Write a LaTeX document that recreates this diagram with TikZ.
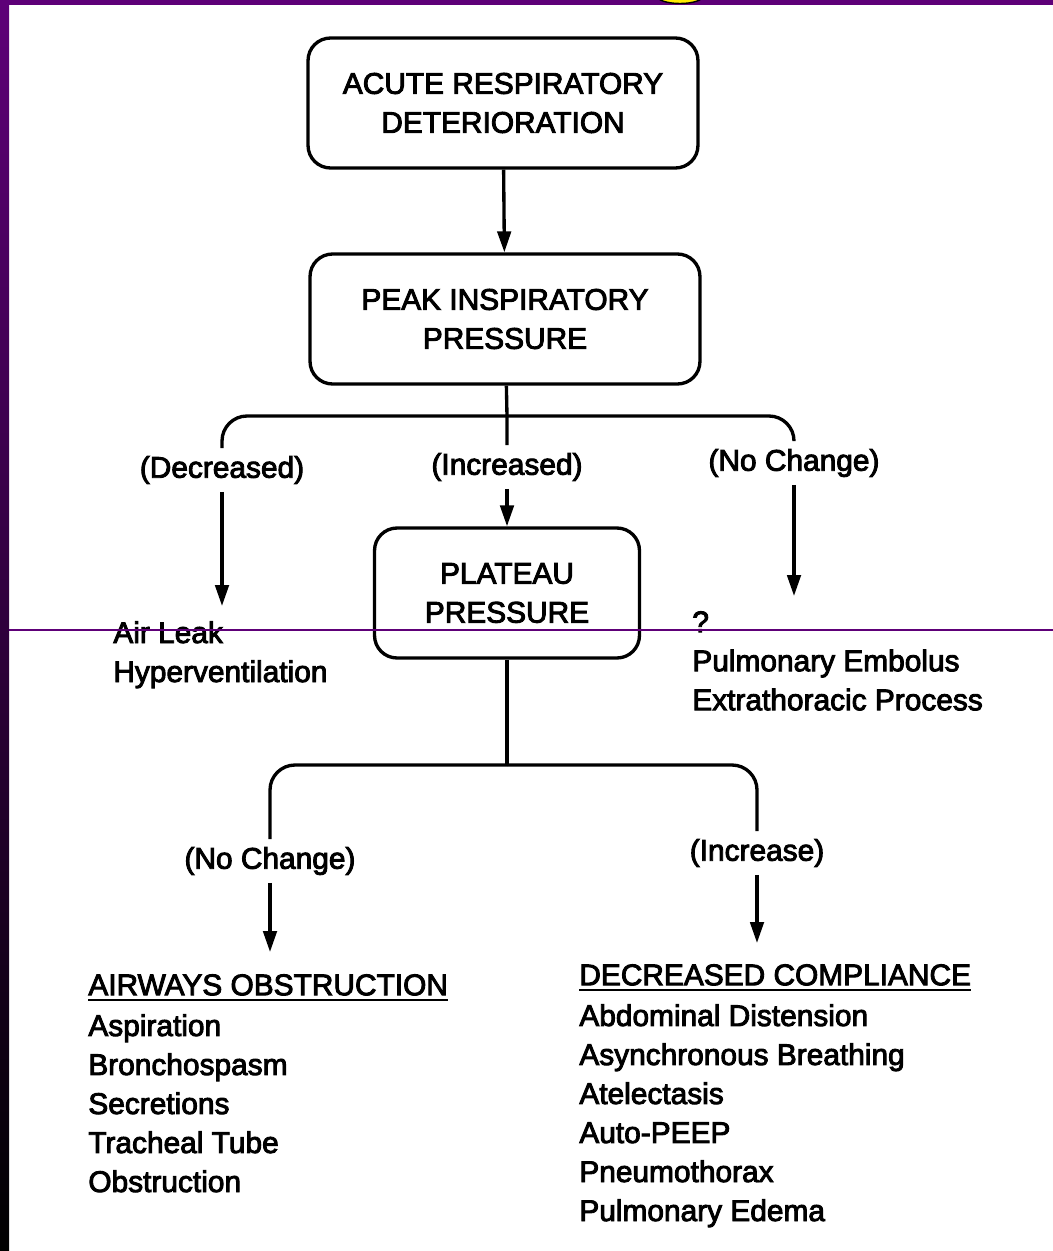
\documentclass[tikz,border=0pt]{standalone}
\usepackage{fontspec}
\setmainfont{Liberation Sans}[BoldFont=Liberation Sans, BoldFeatures={FakeBold=3}]
\usepackage{xcolor}
\usepackage{tikz}
\usetikzlibrary{positioning,arrows.meta}
\definecolor{framepurple}{RGB}{94,0,120}
\definecolor{slideyellow}{RGB}{255,236,0}
\newcommand{\ulhead}[1]{\setbox0=\hbox{#1}\rlap{\rule[-3.4pt]{\wd0}{1.3pt}}\box0}

\begin{document}
\begin{tikzpicture}[x=0.02cm, y=-0.02cm,
  font=\fontsize{17}{22.2}\selectfont\bfseries,
  flowbox/.style={draw, line width=1.9pt, rounded corners=0.45cm, minimum height=2.6cm, align=center},
  branchlabel/.style={inner sep=0.15cm},
  itemlist/.style={anchor=north west, inner sep=0pt, align=left},
  link/.style={line width=1.9pt},
  arr/.style={line width=1.9pt, -{Triangle[length=0.42cm,width=0.27cm]}}]
\useasboundingbox (0,0) rectangle (1053,1251);

% Slide frame
\fill[white] (0,0) rectangle (1053,1251);
\shade[top color=framepurple, bottom color=black] (0,0) rectangle (9,1251);
\fill[framepurple] (0,0) rectangle (1053,5);
\begin{scope}
\clip (0,0) rectangle (1053,5);
\filldraw[fill=slideyellow, draw=black, line width=0.8pt] (680,-4) ellipse [x radius=0.46cm, y radius=0.15cm];
\end{scope}

% Boxes
\node[flowbox, minimum width=7.8cm] (acute) at (503,103) {ACUTE RESPIRATORY\\DETERIORATION};
\node[flowbox, minimum width=7.8cm] (peak) at (505,319) {PEAK INSPIRATORY\\PRESSURE};
\node[flowbox, minimum width=5.3cm] (plateau) at (507,593) {PLATEAU\\PRESSURE};

% Branch labels
\node[branchlabel] (decr) at (222,470) {(Decreased)};
\node[branchlabel] (incr) at (507,467) {(Increased)};
\node[branchlabel] (nochg) at (794,463) {(No Change)};
\node[branchlabel] (nochg2) at (270,861) {(No Change)};
\node[branchlabel] (incr2) at (757,853) {(Increase)};

% Causes
\node[itemlist] (leaklist) at (113,621) {Air Leak\\Hyperventilation};
\node[itemlist] (otherlist) at (692,611) {?\\Pulmonary Embolus\\Extrathoracic Process};
\node[itemlist] (airways) at (88,974) {\ulhead{AIRWAYS OBSTRUCTION}\\[1pt]Aspiration\\Bronchospasm\\Secretions\\Tracheal Tube\\Obstruction};
\node[itemlist] (compliance) at (579,964) {\ulhead{DECREASED COMPLIANCE}\\[1pt]Abdominal Distension\\Asynchronous Breathing\\Atelectasis\\Auto-PEEP\\Pneumothorax\\Pulmonary Edema};

% Forks
\coordinate (fork1) at (507,416);
\coordinate (fork2) at (507,765);

% Arrows
\draw[arr] (acute) -- (peak);
\draw[link] (peak) -- (fork1) -- (incr);
\draw[link, rounded corners=0.5cm] (fork1) -| (decr);
\draw[link, rounded corners=0.5cm] (fork1) -| (nochg);
\draw[arr] (incr) -- (plateau);
\draw[arr, shorten >=0.3cm] (decr) -- (decr |- leaklist.north);
\draw[arr, shorten >=0.3cm] (nochg) -- (nochg |- otherlist.north);
\draw[link] (plateau) -- (fork2);
\draw[link, rounded corners=0.5cm] (fork2) -| (nochg2);
\draw[link, rounded corners=0.5cm] (fork2) -| (incr2);
\draw[arr, shorten >=0.44cm] (nochg2) -- (nochg2 |- airways.north);
\draw[arr, shorten >=0.42cm] (incr2) -- (incr2 |- compliance.north);

% Slide rule
\draw[framepurple, line width=0.6pt] (9,630) -- (1053,630);
\end{tikzpicture}
\end{document}
